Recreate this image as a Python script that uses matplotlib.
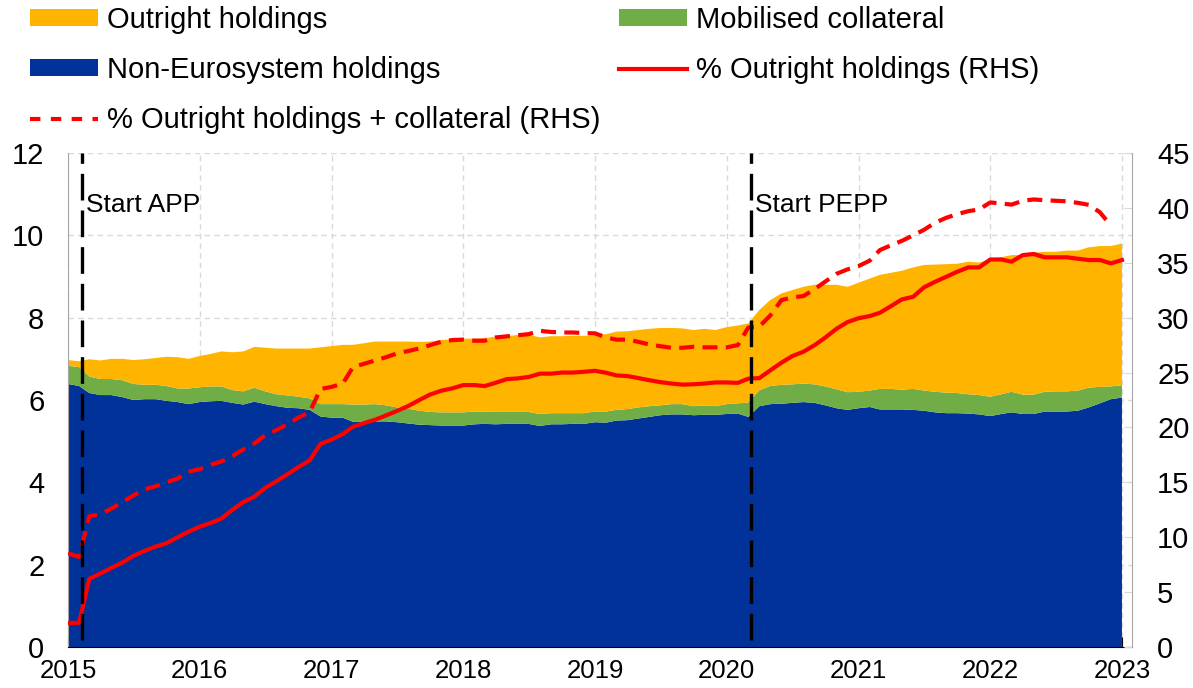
import numpy as np
import pandas as pd
import matplotlib
matplotlib.use("Agg")
import matplotlib.pyplot as plt
import matplotlib.dates as mdates
from matplotlib.patches import Patch
from matplotlib.lines import Line2D

plt.rcParams['font.family'] = ['Liberation Sans', 'DejaVu Sans']

# monthly observations, Jan 2015 - Jan 2023
months = pd.date_range('2015-01-01', '2023-01-01', freq='MS')

# EUR trillions (left axis)
non_euro = [
    6.39, 6.34, 6.17, 6.12, 6.12, 6.07, 6.00, 6.02, 6.02, 5.98, 5.95, 5.90,
    5.95, 5.97, 5.98, 5.93, 5.89, 5.96, 5.90, 5.85, 5.81, 5.80, 5.76, 5.60,
    5.57, 5.57, 5.47, 5.47, 5.48, 5.48, 5.46, 5.43, 5.40, 5.39, 5.38, 5.38,
    5.38, 5.41, 5.42, 5.41, 5.42, 5.42, 5.42, 5.37, 5.41, 5.41, 5.42, 5.42,
    5.46, 5.45, 5.50, 5.51, 5.55, 5.59, 5.63, 5.65, 5.65, 5.63, 5.64, 5.64,
    5.66, 5.67, 5.59, 5.85, 5.90, 5.91, 5.93, 5.95, 5.93, 5.87, 5.80, 5.76,
    5.80, 5.83, 5.77, 5.77, 5.77, 5.76, 5.74, 5.70, 5.68, 5.68, 5.67, 5.65,
    5.61, 5.66, 5.70, 5.66, 5.66, 5.72, 5.72, 5.72, 5.74, 5.82, 5.92, 6.02,
    6.06,
]
collateral = [
    0.44, 0.46, 0.40, 0.39, 0.39, 0.41, 0.39, 0.35, 0.35, 0.36, 0.33, 0.38,
    0.36, 0.36, 0.35, 0.31, 0.32, 0.34, 0.31, 0.29, 0.30, 0.28, 0.28, 0.30,
    0.33, 0.33, 0.42, 0.42, 0.42, 0.39, 0.36, 0.36, 0.34, 0.32, 0.32, 0.32,
    0.32, 0.31, 0.30, 0.30, 0.29, 0.29, 0.29, 0.29, 0.27, 0.27, 0.26, 0.26,
    0.26, 0.27, 0.26, 0.27, 0.27, 0.26, 0.24, 0.25, 0.25, 0.22, 0.23, 0.21,
    0.24, 0.25, 0.35, 0.39, 0.44, 0.46, 0.45, 0.45, 0.45, 0.46, 0.46, 0.43,
    0.40, 0.40, 0.50, 0.50, 0.48, 0.51, 0.49, 0.50, 0.50, 0.49, 0.47, 0.47,
    0.47, 0.48, 0.50, 0.47, 0.47, 0.48, 0.49, 0.49, 0.49, 0.48, 0.40, 0.31,
    0.30,
]
outright = [
    0.14, 0.14, 0.42, 0.45, 0.49, 0.52, 0.58, 0.62, 0.65, 0.71, 0.76, 0.72,
    0.76, 0.79, 0.85, 0.92, 0.97, 0.99, 1.06, 1.11, 1.14, 1.17, 1.21, 1.38,
    1.41, 1.44, 1.45, 1.49, 1.52, 1.55, 1.60, 1.63, 1.67, 1.71, 1.76, 1.77,
    1.79, 1.77, 1.78, 1.83, 1.84, 1.87, 1.88, 1.86, 1.87, 1.87, 1.88, 1.88,
    1.85, 1.88, 1.90, 1.89, 1.88, 1.88, 1.88, 1.85, 1.84, 1.85, 1.86, 1.85,
    1.87, 1.89, 1.92, 1.95, 2.09, 2.22, 2.29, 2.35, 2.42, 2.47, 2.54, 2.56,
    2.65, 2.72, 2.77, 2.82, 2.89, 2.95, 3.05, 3.09, 3.12, 3.14, 3.22, 3.22,
    3.34, 3.33, 3.32, 3.39, 3.45, 3.40, 3.39, 3.42, 3.40, 3.41, 3.42, 3.41,
    3.44,
]

# percentages (right axis)
pct_outright = [
    2.2, 2.2, 6.2, 6.7, 7.2, 7.7, 8.3, 8.75, 9.15, 9.45, 10.0, 10.5,
    10.96, 11.3, 11.7, 12.5, 13.2, 13.7, 14.5, 15.1, 15.75, 16.4, 17.0, 18.5,
    18.9, 19.4, 20.06, 20.4, 20.7, 21.1, 21.5, 21.95, 22.5, 23.0, 23.35, 23.56,
    23.86, 23.86, 23.77, 24.07, 24.4, 24.47, 24.6, 24.9, 24.9, 25.0, 25.0, 25.07,
    25.16, 24.98, 24.74, 24.68, 24.5, 24.3, 24.13, 24.0, 23.9, 23.93, 24.0, 24.1,
    24.1, 24.06, 24.44, 24.5, 25.2, 25.9, 26.5, 26.9, 27.5, 28.2, 29.0, 29.6,
    29.95, 30.15, 30.45, 31.06, 31.67, 31.9, 32.76, 33.27, 33.73, 34.18, 34.58, 34.58,
    35.3, 35.3, 35.1, 35.7, 35.8, 35.5, 35.5, 35.5, 35.37, 35.25, 35.25, 34.95,
    35.25,
]
pct_with_coll = [
    8.53, 8.2, 11.9, 12.1, 12.6, 13.2, 13.8, 14.35, 14.65, 15.0, 15.35, 15.97,
    16.2, 16.6, 16.9, 17.4, 18.0, 18.55, 19.3, 19.76, 20.3, 20.9, 21.4, 23.5,
    23.7, 24.0, 25.5, 25.8, 26.1, 26.4, 26.75, 26.96, 27.2, 27.5, 27.8, 27.96,
    28.0, 27.9, 27.9, 28.2, 28.3, 28.4, 28.5, 28.8, 28.7, 28.65, 28.65, 28.6,
    28.57, 28.2, 28.0, 28.0, 27.8, 27.56, 27.4, 27.26, 27.26, 27.35, 27.3, 27.3,
    27.3, 27.5, 29.1, 29.2, 30.2, 31.6, 31.85, 31.97, 32.6, 33.3, 34.0, 34.4,
    34.7, 35.2, 36.16, 36.6, 37.0, 37.5, 38.0, 38.65, 39.1, 39.43, 39.7, 39.86,
    40.5, 40.4, 40.3, 40.65, 40.77, 40.7, 40.65, 40.6, 40.46, 40.28, 39.6, 38.4,
    np.nan,
]

events = ['Start APP', 'Start PEPP']
event_dates = [pd.Timestamp('2015-02-08'), pd.Timestamp('2020-03-08')]

BLUE = '#003299'
GREEN = '#70AD47'
ORANGE = '#FFB400'
RED = '#FF0000'

fig = plt.figure(figsize=(11.93, 6.88), dpi=100)
ax = fig.add_axes([0.0570, 0.0596, 0.8919, 0.7180])

ax.stackplot(months, non_euro, collateral, outright,
             colors=[BLUE, GREEN, ORANGE], linewidth=0)
ax.set_xlim(pd.Timestamp('2015-01-01'), pd.Timestamp('2023-01-29'))
ax.set_ylim(0, 12)
ax.set_yticks(range(0, 13, 2))
ax.xaxis.set_major_locator(mdates.YearLocator())
ax.xaxis.set_major_formatter(mdates.DateFormatter('%Y'))
ax.set_axisbelow(True)
ax.grid(True, linestyle=(0, (4, 3)), color='#d9d9d9', linewidth=1)
ax.tick_params(axis='y', length=0, labelsize=21, pad=17)
ax.tick_params(axis='x', direction='in', length=7, color='black', labelsize=18.5, pad=9)
ax.spines['top'].set_visible(False)
ax.spines['right'].set_visible(False)
ax.spines['left'].set_color('#a6a6a6')
ax.spines['bottom'].set_color('black')

ax2 = ax.twinx()
ax2.set_ylim(0, 45)
ax2.set_yticks(range(0, 46, 5))
ax2.tick_params(axis='y', direction='in', length=6, color='#d9d9d9', labelsize=21, pad=18)
for side in ['top', 'left', 'bottom']:
    ax2.spines[side].set_visible(False)
ax2.spines['right'].set_color('#a6a6a6')

ax2.plot(months, pct_outright, color=RED, linewidth=3, zorder=3)
ax2.plot(months, pct_with_coll, color=RED, linewidth=3, dashes=(3.6, 2.0), zorder=3)

for name, d in zip(events, event_dates):
    ax2.axvline(d, ymin=0.014, ymax=1, color='black', linewidth=2.4, dashes=(8, 3), zorder=4)
    ax2.annotate(name, xy=(d, 40.3), xytext=(3, 0), textcoords='offset points',
                 fontsize=19, va='center', ha='left')

handles = [
    Patch(facecolor=ORANGE, label='Outright holdings'),
    Patch(facecolor=BLUE, label='Non-Eurosystem holdings'),
    Line2D([], [], color=RED, linewidth=3, dashes=(2.5, 2.5),
           label='% Outright holdings + collateral (RHS)'),
    Patch(facecolor=GREEN, label='Mobilised collateral'),
    Line2D([], [], color=RED, linewidth=3, label='% Outright holdings (RHS)'),
]
fig.legend(handles=handles, loc='upper left', bbox_to_anchor=(30 / 1193, 0.991),
           ncol=2, frameon=False, fontsize=21, borderpad=0, borderaxespad=0,
           handlelength=2.33, handletextpad=0.32, columnspacing=0.62,
           labelspacing=0.75, handleheight=0.51)

fig.savefig('out.png', dpi=100)
